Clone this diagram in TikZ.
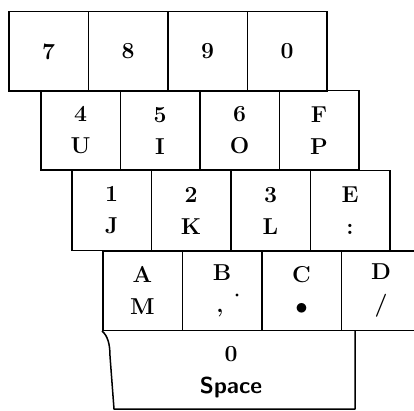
\documentclass[tikz,border=0pt]{standalone}
\usepackage{fontspec}
\usepackage{tikz}
\usetikzlibrary{positioning}
\newcommand{\keyfont}{\fontsize{23}{32}\selectfont\bfseries}

\begin{document}
\begin{tikzpicture}[x=1pt,y=-1pt,
  key/.style={draw,line width=1.5pt,minimum width=79.5pt,minimum height=79.5pt,
              anchor=north west,inner sep=0pt,align=center,font=\keyfont},
  rim/.style={draw,line width=1.5pt,line join=round}]
\clip (0,0) rectangle (414,411);
\def\W{79.5}
% key rows
\foreach \lab [count=\i from 0] in {7,8,9,0}
  \node[key](ra\i) at (8+\W*\i,11){\lab};
\foreach \lab [count=\i from 0] in {{4\\U},{5\\I},{6\\O},{F\\P}}
  \node[key](rb\i) at (40+\W*\i,90){\lab};
\foreach \lab [count=\i from 0] in {{1\\J},{2\\K},{3\\L},{E\\:}}
  \node[key](rc\i) at (71+\W*\i,170){\lab};
\node[key](rd0) at (102,250){A\\M};
\node[key](rd1) at (102+\W,250){B\\\hspace*{-4pt},};
\node[key](rd2) at (102+2*\W,250){C\\$\bullet$};
\node[key](rd3) at (102+3*\W,250){D\\/};
\fill (237,295) circle (1.7pt);
% space bar
\coordinate (sa) at (rd0.south west);
\coordinate (sb) at (114,409);
\coordinate (sc) at (355,409);
\coordinate (sd) at (355,330);
\draw[rim] (sa) .. controls (108,336) and (110,345) .. (110,356) -- (sb) -- (sc) -- (sd);
\node[font=\keyfont,align=center](space) at (231,372){0\\{\sffamily Space}};
\end{tikzpicture}
\end{document}
